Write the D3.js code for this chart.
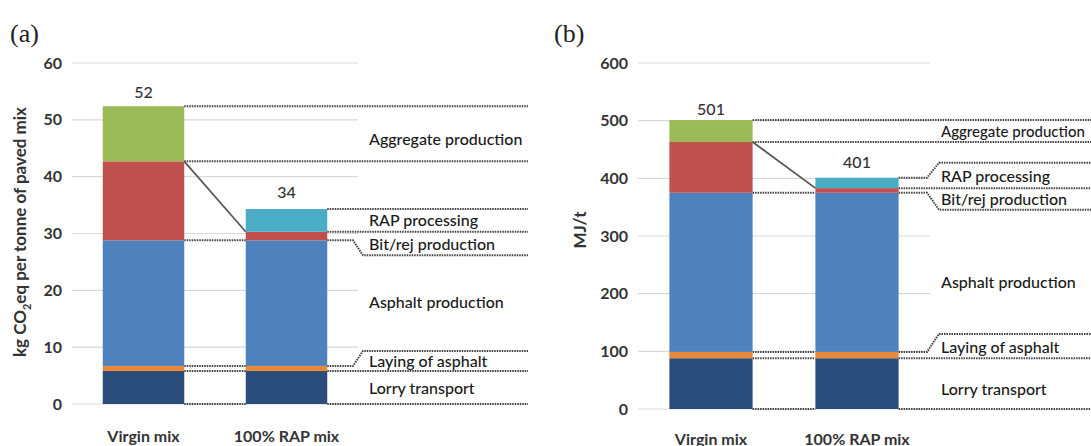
<!DOCTYPE html>
<html><head><meta charset="utf-8">
<script src="https://cdn.jsdelivr.net/npm/d3@7"></script>
<style>
html,body{margin:0;padding:0;background:#fff;}
svg{display:block;font-family:Lato,"Open Sans",sans-serif;}
</style></head>
<body><svg id="chart" width="1091" height="446"></svg>
<script>
// ---- data ----
const categories = ["Virgin mix", "100% RAP mix"];
const stages = ["Lorry transport", "Laying of asphalt", "Asphalt production", "Bit/rej production", "RAP processing", "Aggregate production"];
const stageColors = ["#2b4d7b", "#e8883a", "#4f81bd", "#c0504d", "#4bacc6", "#9bbb59"];
// panel (a): kg CO2eq per tonne of paved mix
const co2Virgin = [5.8, 0.9, 22.1, 13.9, 0, 9.7];
const co2Rap    = [5.8, 0.9, 22.1, 1.5, 4.0, 0];
const co2Ticks  = [0, 10, 20, 30, 40, 50, 60];
// panel (b): MJ/t
const energyVirgin = [88, 11, 276, 88, 0, 38];
const energyRap    = [88, 11, 276, 8, 18, 0];
const energyTicks  = [0, 100, 200, 300, 400, 500, 600];

const svg = d3.select("#chart");
const textCol = "#333";

function drawPanel(cfg) {
  const g = svg.append("g");
  const rows = categories.map((c, i) => {
    const r = {cat: c};
    stages.forEach((s, k) => r[s] = cfg.values[i][k]);
    return r;
  });
  const series = d3.stack().keys(stages)(rows);
  const y = d3.scaleLinear().domain([0, d3.max(cfg.ticks)]).range([cfg.yBottom, cfg.yTop]);
  const x = d3.scaleBand().domain(categories).range([cfg.x0, cfg.x1]).paddingInner(0.43).paddingOuter(0.215);

  // gridlines
  g.append("g").selectAll("line").data(cfg.ticks).join("line")
    .attr("x1", cfg.x0).attr("x2", cfg.x1)
    .attr("y1", d => y(d)).attr("y2", d => y(d))
    .attr("stroke", "#d9d9d9").attr("stroke-width", 1.2);

  // y axis (labels only)
  const ax = g.append("g").attr("transform", `translate(${cfg.x0 - 10},0)`)
    .call(d3.axisLeft(y).tickValues(cfg.ticks).tickSize(0).tickPadding(0).tickFormat(d3.format("d")));
  ax.select(".domain").remove();
  ax.selectAll("text").attr("fill", textCol).style("font-size", "16px").style("font-family", "Lato,sans-serif").style("font-weight", "700");

  // axis title
  const t = g.append("text").attr("transform", `translate(${cfg.titleX},${cfg.titleY}) rotate(-90)`)
    .attr("text-anchor", "middle").attr("dominant-baseline", "middle")
    .attr("fill", textCol).style("font-size", "17px").style("font-weight", "700");
  cfg.title(t);

  // cumulative levels
  const cum = categories.map((c, i) => {
    let s = 0; return cfg.values[i].map(v => (s += v));
  });
  const vRight = x(categories[0]) + x.bandwidth();
  const rLeft = x(categories[1]);
  const rRight = rLeft + x.bandwidth();

  const dotted = {stroke: "#404040", w: 2, dash: "1.5,1"};
  function dline(pts) {
    g.append("path").attr("d", d3.line()(pts)).attr("fill", "none")
      .attr("stroke", dotted.stroke).attr("stroke-width", dotted.w).attr("stroke-dasharray", dotted.dash);
  }
  // between-bar connectors for shared levels
  [0, cum[0][0], cum[0][1], cum[0][2]].forEach(v => dline([[vRight, y(v)], [rLeft, y(v)]]));

  // bars
  g.append("g").selectAll("g").data(series).join("g")
    .attr("fill", (d, i) => stageColors[i])
    .selectAll("rect").data(d => d).join("rect")
    .attr("x", d => x(d.data.cat)).attr("width", x.bandwidth())
    .attr("y", d => y(d[1])).attr("height", d => y(d[0]) - y(d[1]));

  // guides on the right
  const guides = [
    {v: cum[0][5], from: vRight, dy: 0},
    {v: cum[0][3], from: vRight, dy: 0},
    {v: cum[1][5], from: rRight, dy: cfg.dyRapTop},
    {v: cum[1][3], from: rRight, dy: 0},
    {v: cum[1][2], from: rRight, dy: cfg.dyAsphalt},
    {v: cum[1][1], from: rRight, dy: cfg.dyLaying},
    {v: cum[1][0], from: rRight, dy: 0},
    {v: 0, from: rRight, dy: 0}
  ];
  guides.forEach(gd => {
    const yy = y(gd.v);
    if (gd.dy === 0) dline([[gd.from, yy], [cfg.lineEnd, yy]]);
    else dline([[gd.from, yy], [cfg.leadA, yy], [cfg.leadB, yy + gd.dy], [cfg.lineEnd, yy + gd.dy]]);
    gd.y = yy + gd.dy;
  });
  // connector from virgin to RAP
  g.append("line").attr("x1", vRight).attr("y1", y(cum[0][3])).attr("x2", rLeft).attr("y2", y(cum[1][3]))
    .attr("stroke", "#555").attr("stroke-width", 1.7);

  // stage labels
  const labs = [
    {t: "Aggregate production", a: 0, b: 1},
    {t: "RAP processing", a: 2, b: 3},
    {t: "Bit/rej production", a: 3, b: 4},
    {t: "Asphalt production", a: 4, b: 5},
    {t: "Laying of asphalt", a: 5, b: 6},
    {t: "Lorry transport", a: 6, b: 7}
  ];
  labs.forEach((l, i) => {
    g.append("text").attr("x", cfg.labelX)
      .attr("y", (guides[l.a].y + guides[l.b].y) / 2 + cfg.nudge[i])
      .attr("dominant-baseline", "central").attr("fill", "#1a1a1a")
      .style("font-size", (cfg.labelSize[i] || 16) + "px").style("font-weight", "500").text(l.t);
  });

  // totals
  categories.forEach((c, i) => {
    g.append("text").attr("x", x(c) + x.bandwidth() / 2).attr("y", y(cum[i][5]) - cfg.totalGap[i])
      .attr("text-anchor", "middle").attr("fill", textCol).style("font-size", "16px").style("font-weight", "500")
      .text(d3.format("d")(Math.round(cum[i][5])));
  });

  // category labels
  categories.forEach(c => {
    g.append("text").attr("x", x(c) + x.bandwidth() / 2).attr("y", cfg.catY)
      .attr("text-anchor", "middle").attr("dominant-baseline", "central")
      .attr("fill", textCol).style("font-size", "16px").style("font-weight", "700").text(c);
  });

  // panel letter
  svg.append("text").attr("x", cfg.letterX).attr("y", 42)
    .style("font-family", "'Liberation Serif',serif").style("font-size", "26px").attr("fill", "#222")
    .text(cfg.letter);
}

drawPanel({
  values: [co2Virgin, co2Rap], ticks: co2Ticks,
  x0: 72, x1: 358, yTop: 63, yBottom: 404,
  titleX: 22, titleY: 232,
  title: t => { t.append("tspan").text("kg CO"); t.append("tspan").attr("baseline-shift", "sub").style("font-size", "11px").text("2");
                t.append("tspan").text("eq per tonne of paved mix"); },
  lineEnd: 528, leadA: 353, leadB: 363, labelX: 369,
  dyRapTop: 0, dyAsphalt: 15, dyLaying: -15,
  nudge: [5, -1, 0, -2, 0, 0], labelSize: [],
  totalGap: [8, 11], catY: 435, letter: "(a)", letterX: 10
});
drawPanel({
  values: [energyVirgin, energyRap], ticks: energyTicks,
  x0: 638, x1: 930, yTop: 63, yBottom: 409,
  titleX: 582, titleY: 230,
  title: t => t.text("MJ/t"),
  lineEnd: 1091, leadA: 927, leadB: 939, labelX: 941,
  dyRapTop: -15, dyAsphalt: 17, dyLaying: -18,
  nudge: [0, 0, 0, 10, 0, 5], labelSize: [15],
  totalGap: [5, 10], catY: 438, letter: "(b)", letterX: 554
});
</script></body></html>
